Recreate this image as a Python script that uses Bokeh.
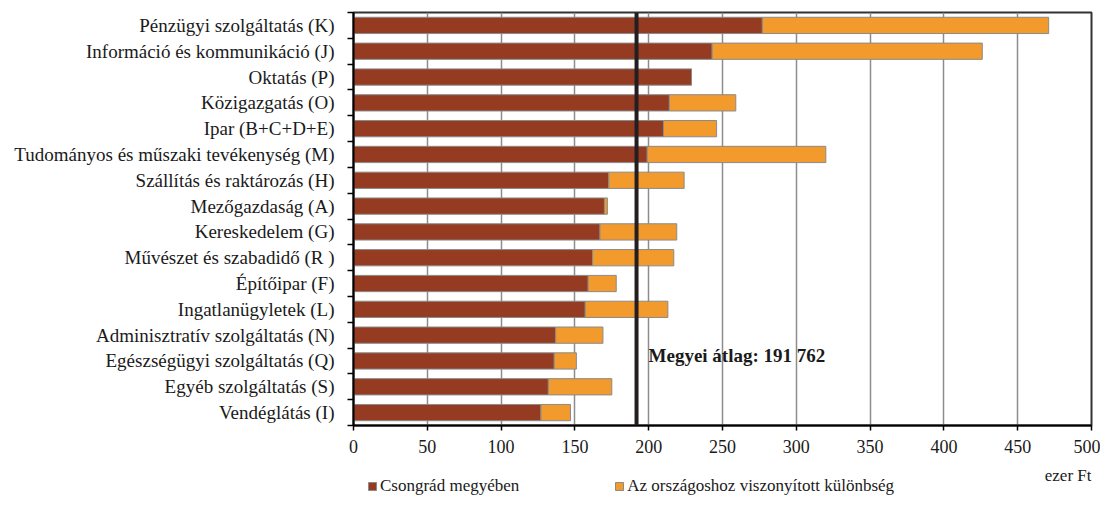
from bokeh.plotting import figure
from bokeh.layouts import column
from bokeh.models import (Range1d, FixedTicker, Span, Label, Legend, LegendItem,
                          ColumnDataSource)
from bokeh.embed import file_html
from bokeh.resources import INLINE

categories = [
    "Pénzügyi szolgáltatás (K)",
    "Információ és kommunikáció (J)",
    "Oktatás (P)",
    "Közigazgatás (O)",
    "Ipar (B+C+D+E)",
    "Tudományos és műszaki tevékenység (M)",
    "Szállítás és raktározás (H)",
    "Mezőgazdaság (A)",
    "Kereskedelem (G)",
    "Művészet és szabadidő (R )",
    "Építőipar (F)",
    "Ingatlanügyletek (L)",
    "Adminisztratív szolgáltatás (N)",
    "Egészségügyi szolgáltatás (Q)",
    "Egyéb szolgáltatás (S)",
    "Vendéglátás (I)",
]
csongrad = [277, 243, 229, 214, 210, 199, 173, 170, 167, 162, 159, 157, 137, 136, 132, 127]
kulonbseg = [194, 183, 0, 45, 36, 121, 51, 2, 52, 55, 19, 56, 32, 15, 43, 20]
x_ticks = [0, 50, 100, 150, 200, 250, 300, 350, 400, 450, 500]
megyei_atlag = 191.762
series_names = ["Csongrád megyében", "Az országoshoz viszonyított különbség"]
unit_label = "ezer Ft"

FONT = "Liberation Serif"
DARK = "#943B21"
ORANGE = "#F39A2D"
EDGE = "#8a8a8a"
TXT = "#1a1a1a"

n = len(categories)
ypos = [n - i - 0.5 for i in range(n)]
source = ColumnDataSource(dict(y=ypos, cs=csongrad, kul=kulonbseg))

W = 1100
xr = Range1d(0, 500)
p = figure(width=W, height=460, output_backend="svg", toolbar_location=None,
           x_range=xr, y_range=Range1d(0, n),
           min_border_left=353, min_border_right=9, min_border_top=12,
           min_border_bottom=35)

rs = p.hbar_stack(["cs", "kul"], y="y", height=0.63, source=source,
                  color=[DARK, ORANGE], line_color=EDGE, line_width=1)

# x axis
p.xaxis.ticker = FixedTicker(ticks=x_ticks)
p.xaxis.axis_line_color = "black"
p.xaxis.axis_line_width = 2
p.xaxis.major_tick_line_color = "black"
p.xaxis.major_tick_line_width = 1.5
p.xaxis.major_tick_out = 5
p.xaxis.major_tick_in = 0
p.xaxis.minor_tick_line_color = None
p.xaxis.major_label_text_font = FONT
p.xaxis.major_label_text_font_size = "18px"
p.xaxis.major_label_text_color = TXT
p.xaxis.major_label_standoff = 9

# y axis
p.yaxis.ticker = FixedTicker(ticks=ypos, minor_ticks=list(range(n + 1)))
p.yaxis.major_label_overrides = {y: c for y, c in zip(ypos, categories)}
p.yaxis.axis_line_color = "black"
p.yaxis.axis_line_width = 2
p.yaxis.major_tick_line_color = None
p.yaxis.major_tick_out = 0
p.yaxis.major_tick_in = 0
p.yaxis.minor_tick_line_color = "black"
p.yaxis.minor_tick_line_width = 1.5
p.yaxis.minor_tick_out = 6
p.yaxis.minor_tick_in = 0
p.yaxis.major_label_text_font = FONT
p.yaxis.major_label_text_font_size = "19px"
p.yaxis.major_label_text_color = TXT
p.yaxis.major_label_standoff = 13

p.xgrid.ticker = FixedTicker(ticks=x_ticks)
p.xgrid.grid_line_color = "#8c8c8c"
p.xgrid.grid_line_width = 1.5
p.ygrid.grid_line_color = None

p.outline_line_color = "#333333"
p.outline_line_width = 2

avg = Span(location=megyei_atlag, dimension="height", line_color="#231F20", line_width=4)
p.add_layout(avg)

p.add_layout(Label(x=megyei_atlag, y=ypos[13], x_offset=12, y_offset=5,
                   text="Megyei átlag: 191 762", text_font=FONT,
                   text_font_size="19px", text_font_style="bold",
                   text_baseline="middle", text_color=TXT))

# legend strip below the chart (its frame is aligned with the chart's frame)
LH = 36
q = figure(width=W, height=LH, output_backend="svg", toolbar_location=None,
           x_range=xr, y_range=Range1d(2 * n, 2 * n + 1),
           min_border_left=353, min_border_right=9, min_border_top=0,
           min_border_bottom=0, outline_line_color=None)
q.axis.visible = False
q.grid.visible = False
# legend swatches: same bars, drawn outside this strip's visible range
qs = q.hbar_stack(["cs", "kul"], y="y", height=0.63, source=source,
                  color=[DARK, ORANGE], line_color=EDGE, line_width=1)

q.add_layout(Label(x=500, y=2 * n, x_offset=0, y_offset=21, text=unit_label,
                   text_font=FONT, text_font_size="17px", text_align="right",
                   text_baseline="middle", text_color=TXT))

legend = Legend(items=[LegendItem(label=series_names[0], renderers=[qs[0]]),
                       LegendItem(label=series_names[1], renderers=[qs[1]])],
                location=(14, 0), orientation="horizontal",
                glyph_width=10, glyph_height=10, label_standoff=3,
                spacing=95, padding=0, margin=0,
                label_text_font=FONT, label_text_font_size="17px",
                label_text_color=TXT,
                border_line_color=None, background_fill_alpha=0)
q.add_layout(legend)

layout = column(p, q, spacing=0)
open("out.html", "w").write(file_html(layout, INLINE))
